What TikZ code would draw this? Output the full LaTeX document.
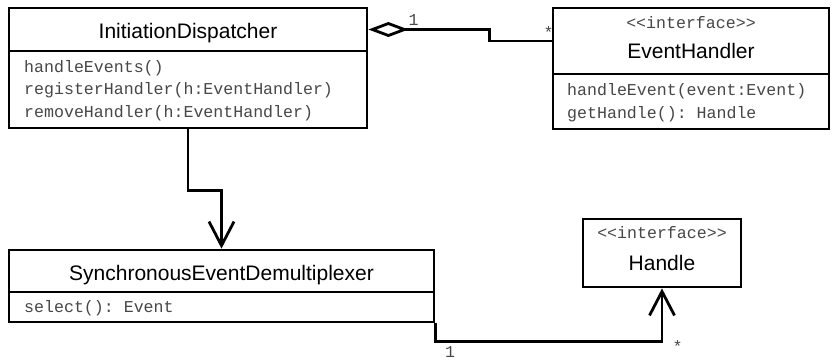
\documentclass[tikz,border=0pt]{standalone}
\usepackage{fontspec}
\setmainfont{Liberation Sans}
\setmonofont{Liberation Mono}
\usetikzlibrary{arrows.meta}
\begin{document}
\begin{tikzpicture}[x=1pt,y=-1pt,
  box/.style={draw=black,line width=2.8pt,inner sep=0pt,fill=white},
  ttl/.style={inner sep=0pt,font=\fontsize{21}{24}\selectfont,text=black},
  mth/.style={inner sep=0pt,anchor=base west,font=\ttfamily\fontsize{16.6}{20}\selectfont,text=black!72},
  ster/.style={inner sep=0pt,anchor=base,font=\ttfamily\fontsize{16.6}{20}\selectfont,text=black!72},
  mult/.style={inner sep=0pt,anchor=base,font=\ttfamily\fontsize{16.6}{20}\selectfont,text=black!72},
  conn/.style={draw=black,line width=2.8pt},
  openarrow/.style={-{Straight Barb[length=24pt,width=25pt,line width=2.8pt]}}
]
\useasboundingbox (0,0) rectangle (833,360);
% InitiationDispatcher
\node[box,minimum width=358pt,minimum height=43pt] (idT) at (188,29.5) {};
\node[box,minimum width=358pt,minimum height=77pt] (idM) at (188,89.5) {};
\node[ttl,anchor=base] (idN) at (188,38) {InitiationDispatcher};
\node[mth] (idA) at (24,72) {handleEvents()};
\node[mth] (idB) at (24,94.5) {registerHandler(h:EventHandler)};
\node[mth] (idC) at (24,117) {removeHandler(h:EventHandler)};
% EventHandler
\node[box,minimum width=276pt,minimum height=66pt] (ehT) at (691,41) {};
\node[box,minimum width=276pt,minimum height=55pt] (ehM) at (691,101.5) {};
\node[ster] (ehS) at (691,28) {<{}<interface>{}>};
\node[ttl,anchor=base] (ehN) at (691,58) {EventHandler};
\node[mth] (ehA) at (567,95) {handleEvent(event:Event)};
\node[mth] (ehB) at (567,118) {getHandle(): Handle};
% SynchronousEventDemultiplexer
\node[box,minimum width=425pt,minimum height=42pt] (dmT) at (221.5,271) {};
\node[box,minimum width=425pt,minimum height=30pt] (dmM) at (221.5,307) {};
\node[ttl,anchor=base] (dmN) at (221.5,280) {SynchronousEventDemultiplexer};
\node[mth] (dmA) at (24,312) {select(): Event};
% Handle
\node[box,minimum width=158pt,minimum height=68pt] (hd) at (662,253) {};
\node[ster] (hdS) at (662,238.5) {<{}<interface>{}>};
\node[ttl,anchor=base] (hdN) at (662,270) {Handle};
% connectors
\draw[conn,{Diamond[open,fill=white,length=40pt,width=15pt,line width=2.8pt]}-] (idT.east) -- ++(121,0) |- (ehT.west);
\node[mult] (m1) at (413.5,25) {1};
\node[mult] (m2) at (548.5,38) {*};
\draw[conn,openarrow] (idM.south) -- ++(0,61) -| (dmT.north);
\draw[conn,openarrow] (dmM.south east) -- ++(0,18) -| (hd.south);
\node[mult] (m3) at (450,357.5) {1};
\node[mult] (m4) at (677.5,352) {*};
\end{tikzpicture}
\end{document}
